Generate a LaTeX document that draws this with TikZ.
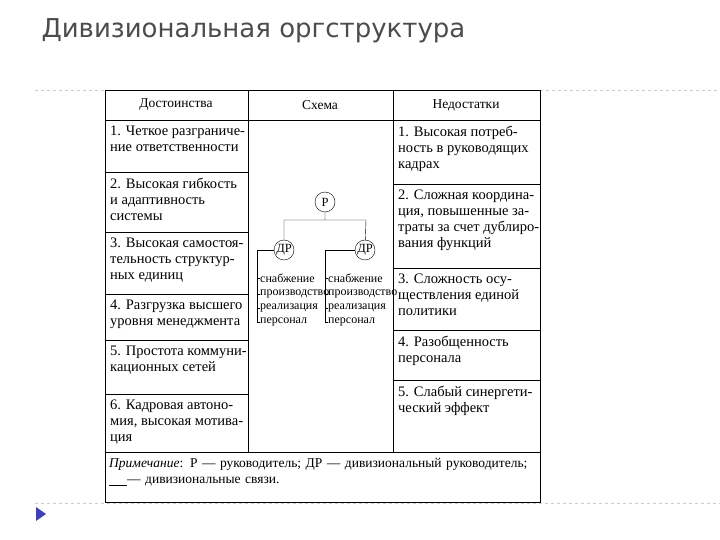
\documentclass[tikz,border=0pt]{standalone}
\usepackage{fontspec}
\setmainfont{Liberation Serif}
\newfontfamily\titlefont{DejaVu Sans}
\begin{document}
\begin{tikzpicture}[x=1pt,y=-1pt,
 cell/.style={anchor=north west,align=left,font=\fontsize{14.5}{16}\selectfont,inner sep=0pt},
 hd/.style={font=\fontsize{13.5}{15}\selectfont},
 circ/.style={draw,circle,minimum size=20pt,inner sep=0pt,font=\fontsize{12.5}{13}\selectfont,fill=white},
 sub/.style={anchor=west,inner sep=1pt,font=\fontsize{12}{12}\selectfont},
 grid/.style={line width=0.9pt}]
\useasboundingbox (0,0) rectangle (720,540);
\node[anchor=west,text=black!70,font=\titlefont\fontsize{26}{30}\selectfont] (title) at (38,31) {Дивизиональная оргструктура};
\draw[gray!40,dashed] (35,90) -- (105,90) (540,90) -- (720,90) (35,503) -- (720,503);
\fill[blue!50!gray] (36,507) -- (46,514) -- (36,521) -- cycle;
% table
\draw[grid] (105,90) rectangle (540,502);
\draw[grid] (105,120) -- (540,120) (105,452) -- (540,452);
\draw[grid] (248,90) -- (248,452) (393,90) -- (393,452);
\foreach \y in {172,232,294,340,394} \draw[grid] (105,\y) -- (248,\y);
\foreach \y in {184,268,330,380} \draw[grid] (393,\y) -- (540,\y);
\node[hd] (h1) at (176,105) {Достоинства};
\node[hd] (h2) at (320,105) {Схема};
\node[hd] (h3) at (466,105) {Недостатки};
\node[cell] (l1) at (110,126) {1. Четкое разграниче-\\ние ответственности};
\node[cell] (l2) at (110,178) {2. Высокая гибкость\\и адаптивность\\системы};
\node[cell] (l3) at (110,238) {3. Высокая самостоя-\\тельность структур-\\ных единиц};
\node[cell] (l4) at (110,300) {4. Разгрузка высшего\\уровня менеджмента};
\node[cell] (l5) at (110,346) {5. Простота коммуни-\\кационных сетей};
\node[cell] (l6) at (110,400) {6. Кадровая автоно-\\мия, высокая мотива-\\ция};
\node[cell] (r1) at (398,126) {1. Высокая потреб-\\ность в руководящих\\кадрах};
\node[cell] (r2) at (398,190) {2. Сложная координа-\\ция, повышенные за-\\траты за счет дублиро-\\вания функций};
\node[cell] (r3) at (398,274) {3. Сложность осу-\\ществления единой\\политики};
\node[cell] (r4) at (398,336) {4. Разобщенность\\персонала};
\node[cell] (r5) at (398,386) {5. Слабый синергети-\\ческий эффект};
\node[cell,text width=428pt,font=\fontsize{13.5}{16}\selectfont] (note) at (109,458) {\textit{Примечание}: Р — руководитель; ДР — дивизиональный руководитель;\\\underline{\ \ \ \ }— дивизиональные связи.};
% scheme
\node[circ] (P) at (325,202) {Р};
\node[circ] (D1) at (284,250) {ДР};
\node[circ] (D2) at (365,250) {ДР};
\coordinate (j) at (325,220);
\draw (P) -- (j) (284,220) -- (366,220) (284,220) -- (D1) (366,220) -- (D2);
\coordinate (a1) at (257,250); \coordinate (a2) at (257,322);
\coordinate (b1) at (325,250); \coordinate (b2) at (325,322);
\draw (D1) -- (a1) -- (a2);
\draw (D2) -- (b1) -- (b2);
\foreach \y/\t [count=\i] in {278/снабжение,294/производство,308/реализация,322/персонал}{
 \draw (257,\y) -- (260,\y); \node[sub] (s\i) at (259,\y) {\t};
 \draw (325,\y) -- (328,\y); \node[sub] (t\i) at (327,\y) {\t};}
\end{tikzpicture}
\end{document}
